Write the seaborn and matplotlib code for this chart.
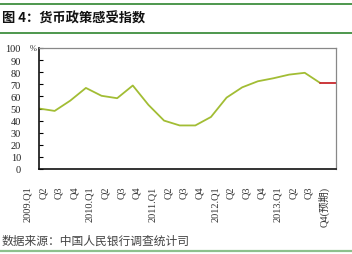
import matplotlib
matplotlib.use("Agg")
import matplotlib.pyplot as plt
import matplotlib.transforms as mtransforms
from matplotlib.lines import Line2D
import seaborn as sns
import pandas as pd

# ---- data ----
categories = ["2009.Q1", "Q2", "Q3", "Q4",
              "2010.Q1", "Q2", "Q3", "Q4",
              "2011.Q1", "Q2", "Q3", "Q4",
              "2012.Q1", "Q2", "Q3", "Q4",
              "2013.Q1", "Q2", "Q3", "Q4(预期)"]
actual = [50, 48, 56.5, 67, 60.5, 58.5, 69, 53, 40, 36, 36, 43,
          59, 67.5, 72.5, 75, 78, 79.5, 71]
forecast = [71, 71]          # 2013.Q3 -> 2013.Q4(预期)
yticks = [0, 10, 20, 30, 40, 50, 60, 70, 80, 90, 100]

title = "图 4：货币政策感受指数"
source = "数据来源：中国人民银行调查统计司"

sns.set_theme(style="white")
plt.rcParams["font.family"] = ["Liberation Serif", "Noto Sans CJK SC", "DejaVu Sans"]

W, H = 352, 255
fig = plt.figure(figsize=(W / 100, H / 100), dpi=100)
ax = fig.add_axes([39 / W, 1 - 170 / H, 297 / W, 121 / H])

df_a = pd.DataFrame({"x": list(range(len(actual))), "v": actual})
df_f = pd.DataFrame({"x": list(range(len(actual) - 1, len(actual) - 1 + len(forecast))),
                     "v": forecast})
sns.lineplot(data=df_a, x="x", y="v", ax=ax, color="#a2bd34", linewidth=1.3)
sns.lineplot(data=df_f, x="x", y="v", ax=ax, color="#c8282d", linewidth=1.3)

ax.set_xlim(0, len(categories) - 1)
ax.set_ylim(0, 100)
ax.set_xlabel("")
ax.set_ylabel("")

ax.set_yticks(yticks)
ax.set_yticklabels([str(t) for t in yticks], fontsize=7.5, color="#222222")
ax.tick_params(axis="y", direction="in", length=3, width=0.8, color="black",
               pad=13, left=True)

ax.set_xticks(list(range(len(categories))))
ax.set_xticklabels(categories, rotation=90, fontsize=7.5, color="#333333",
                   va="top", ha="center")
ax.tick_params(axis="x", length=0, pad=12)
offset = mtransforms.ScaledTranslation(-11.5 / 100, 0, fig.dpi_scale_trans)
for lab in ax.get_xticklabels():
    lab.set_transform(lab.get_transform() + offset)

for side in ["left", "bottom"]:
    ax.spines[side].set_color("#111111")
    ax.spines[side].set_linewidth(1.2)
for side in ["top", "right"]:
    ax.spines[side].set_color("#888888")
    ax.spines[side].set_linewidth(0.9)
    ax.spines[side].set_visible(True)

fig.text(33 / W, 1 - 49 / H, "%", fontsize=6, ha="center", va="center", color="#333333")

# header / footer
fig.add_artist(Line2D([0, 1], [1 - 4.5 / H] * 2, color="#3f8f3f", linewidth=1.3))
fig.add_artist(Line2D([0, 1], [1 - 33.5 / H] * 2, color="#3f8f3f", linewidth=1.3))
fig.add_artist(Line2D([0, 1], [1 - 251.5 / H] * 2, color="#8cc08c", linewidth=1.6))
fig.text(2 / W, 1 - 19 / H, title, fontsize=9.5, fontweight="bold", ha="left",
         va="center", family=["Noto Sans CJK SC", "DejaVu Sans"], color="#111111")
fig.text(2 / W, 1 - 241 / H, source, fontsize=8.5, ha="left", va="center",
         family=["Noto Sans CJK SC", "DejaVu Sans"], color="#444444")

fig.savefig("out.png", dpi=100)
